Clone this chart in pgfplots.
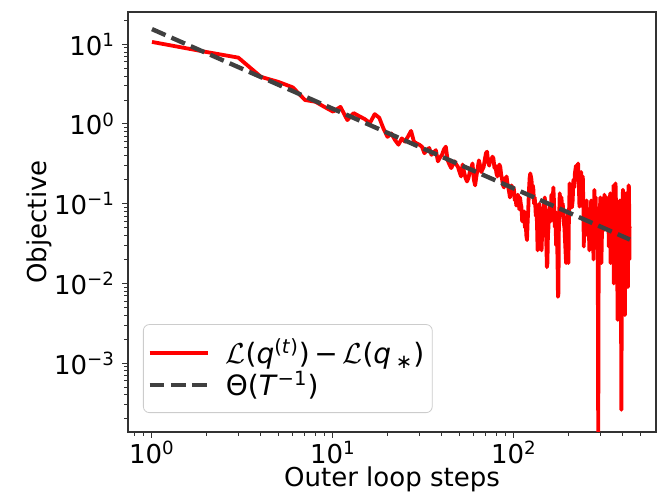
\documentclass[border=0pt]{standalone}
\usepackage{fontspec}
\setmainfont{DejaVu Sans}
\usepackage{pgfplots}
\pgfplotsset{compat=1.18}
\definecolor{dgray}{RGB}{64,64,64}
\definecolor{spine}{RGB}{50,50,50}
\begin{document}
\begin{tikzpicture}
\begin{axis}[name=ax, at={(0pt,0pt)}, anchor=south west,
  scale only axis, width=264pt, height=210pt,
  xmode=log, ymode=log,
  xmin=0.737, xmax=609, ymin=1.37e-4, ymax=25.4,
  xtick={1,10,100},
  xticklabels={10\textsuperscript{0},10\textsuperscript{1},10\textsuperscript{2}},
  ytick={1e-3,1e-2,1e-1,1,10},
  yticklabels={10\textsuperscript{−3},10\textsuperscript{−2},10\textsuperscript{−1},10\textsuperscript{0},10\textsuperscript{1}},
  minor xtick={0.8,0.9,2,3,4,5,6,7,8,9,20,30,40,50,60,70,80,90,200,300,400,500},
  minor ytick={2e-4,3e-4,4e-4,5e-4,6e-4,7e-4,8e-4,9e-4,2e-3,3e-3,4e-3,5e-3,6e-3,7e-3,8e-3,9e-3,2e-2,3e-2,4e-2,5e-2,6e-2,7e-2,8e-2,9e-2,0.2,0.3,0.4,0.5,0.6,0.7,0.8,0.9,2,3,4,5,6,7,8,9,20},
  tick pos=left, tick align=outside,
  major tick length=3pt, minor tick length=1.8pt,
  tick style={spine, line width=0.5pt},
  axis line style={spine, line width=0.7pt},
  tick label style={font=\fontsize{13}{15}\selectfont},
  xticklabel style={yshift=2pt},
  label style={font=\fontsize{13}{15}\selectfont},
  xlabel={Outer loop steps}, ylabel={Objective},
  xlabel style={at={(axis description cs:0.5,-0.113)}, anchor=center},
  ylabel style={at={(axis description cs:-0.1686,0.5)}, anchor=center},
  legend style={at={(axis description cs:0.0284,0.0452)}, anchor=south west,
    draw=black!20, rounded corners=3pt, fill=white, fill opacity=0.8, text opacity=1,
    font=\fontsize{14}{16}\selectfont, inner xsep=2pt, inner ysep=5pt, row sep=-2pt,
    cells={anchor=west}},
  legend image code/.code={\draw[#1] (0pt,0pt) -- (29pt,0pt); \path (35pt,0pt);},
]
\addplot[red, line width=1.9pt, line join=round] coordinates {
(1,10.7)(2,8.0)(3,6.8)(4,3.9)(5,3.37)(6,2.88)(7,2.0)(8,1.9)(9,1.63)(10,1.43)
(11,1.64)(12,1.12)(13,1.37)(14,1.25)(15,1.15)(16,1.03)(17,1.33)(18,1.2)(19,0.88)(20,0.69)
(21,0.76)(22,0.63)(23,0.55)(24,0.66)(25,0.60)(26,0.70)(27,0.82)(28,0.60)(29,0.57)(30,0.55)
(31,0.52)(32,0.43)(33,0.47)(34,0.50)(35,0.41)(36,0.44)(37,0.47)(38,0.34)(39,0.38)(40,0.41)
(41,0.48)(42,0.52)(43,0.35)(44,0.31)(45,0.28)(46,0.31)(47,0.34)(48,0.31)(49,0.29)(50,0.25)
(51,0.22)(52,0.31)(53,0.25)(54,0.21)(55,0.19)(56,0.21)(57,0.25)(58,0.28)(59,0.32)(60,0.20)
(61,0.17)(62,0.22)(63,0.28)(64,0.35)(65,0.30)(66,0.25)(67,0.27)(68,0.29)(69,0.36)(70,0.43)
(71,0.45)(72,0.33)(73,0.30)(74,0.36)(75,0.34)(76,0.39)(77,0.37)(78,0.28)(79,0.30)(80,0.24)
(81,0.22)(82,0.27)(83,0.31)(84,0.29)(85,0.23)(86,0.20)(87,0.17)(88,0.16)(89,0.21)(90,0.19)
(91,0.22)(92,0.18)(93,0.16)(94,0.14)(95,0.12)(96,0.13)(97,0.17)(98,0.14)(99,0.16)(100,0.15)
(101,0.11)(102,0.12)(103,0.095)(104,0.10)(105,0.13)(106,0.11)(107,0.085)(108,0.12)(109,0.1)(110,0.09)
(111,0.06)(112,0.075)(113,0.069)(114,0.08)(115,0.05)(116,0.06)(117,0.04)(118,0.035)(119,0.06)(120,0.09)
(121,0.15)(122,0.21)(123,0.24)(124,0.22)(125,0.2)(126,0.13)(127,0.17)(128,0.15)(129,0.1)(130,0.12)
(131,0.1)(132,0.07)(133,0.08)(134,0.057)(135,0.026)(136,0.05)(137,0.07)(138,0.1)(139,0.083)(140,0.06)
(142,0.026)(144,0.07)(145,0.06)(146,0.09)(148,0.12)(149,0.08)(150,0.05)(151,0.03)(152,0.016)(153,0.018)
(154,0.04)(155,0.05)(156,0.08)(158,0.092)(159,0.06)(161,0.13)(163,0.09)(165,0.16)(166,0.12)(168,0.051)
(169,0.08)(171,0.03)(172,0.06)(174,0.02)(175,0.0068)(176,0.0075)(177,0.05)(179,0.135)(181,0.09)(183,0.12)
(185,0.07)(186,0.10)(188,0.06)(190,0.05)(192,0.03)(194,0.018)(196,0.05)(198,0.08)(200,0.018)(201,0.06)
(203,0.18)(205,0.12)(207,0.14)(209,0.09)(211,0.11)(213,0.2)(215,0.16)(217,0.24)(220,0.30)(222,0.2)
(224,0.26)(226,0.32)(228,0.18)(230,0.092)(232,0.15)(235,0.25)(237,0.16)(240,0.22)(242,0.08)(243,0.029)
(245,0.10)(247,0.07)(250,0.063)(252,0.11)(255,0.04)(258,0.07)(261,0.026)(264,0.06)(267,0.11)(270,0.06)
(272,0.08)(275,0.02)(276,0.05)(278,0.149)(280,0.09)(281,0.08)(283,0.12)(284,0.03)(286,0.06)(288,0.04)
(290,0.07)(292,0.0001)(294,0.05)(296,0.09)(298,0.076)(300,0.12)(301,0.03)(303,0.05)(304,0.018)(306,0.04)
(307,0.06)(309,0.09)(310,0.11)(312,0.05)(314,0.07)(316,0.13)(318,0.047)(320,0.06)(321,0.08)(323,0.1)
(325,0.12)(327,0.05)(330,0.06)(332,0.1)(334,0.029)(336,0.05)(337,0.07)(339,0.1)(340,0.135)(342,0.018)
(344,0.04)(345,0.05)(347,0.09)(350,0.02)(352,0.07)(355,0.17)(356,0.01)(358,0.05)(360,0.09)(362,0.12)
(364,0.18)(366,0.1)(367,0.06)(369,0.02)(370,0.01)(372,0.05)(373,0.0035)(375,0.0035)(376,0.005)(378,0.04)
(380,0.011)(382,0.06)(383,0.04)(385,0.11)(387,0.03)(388,0.05)(390,0.008)(392,0.00026)(394,0.005)(395,0.03)
(397,0.02)(398,0.1)(400,0.15)(402,0.04)(404,0.06)(406,0.01)(408,0.029)(410,0.004)(412,0.07)(414,0.02)
(416,0.135)(418,0.03)(420,0.08)(422,0.01)(424,0.047)(426,0.009)(428,0.1)(430,0.17)(432,0.16)(434,0.02)
(435,0.05)(437,0.052)
};
\addlegendentry{\(\mathcal{L}\)(\textit{q}\textsuperscript{(\textit{t})})\,−\,\(\mathcal{L}\)(\textit{q}\,\textsubscript{∗})}
\addplot[dgray, line width=2.2pt, dash pattern=on 7.4pt off 3.2pt] coordinates {(1,15.5) (437,0.0355)};
\addlegendentry{Θ(\textit{T}\textsuperscript{−1})}
\end{axis}
\pgfresetboundingbox
\useasboundingbox ([shift={(-64pt,-30pt)}]ax.south west) rectangle ([shift={(2.5pt,6pt)}]ax.north east);
\end{tikzpicture}
\end{document}
